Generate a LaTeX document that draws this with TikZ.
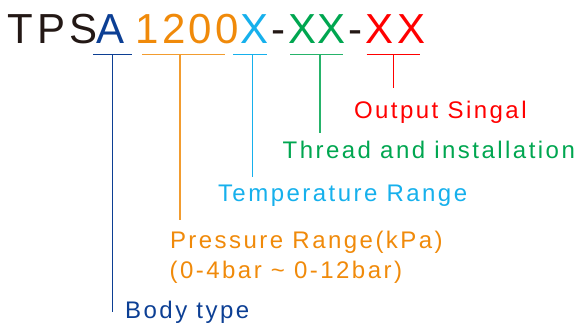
\documentclass[tikz,border=0pt]{standalone}
\usepackage{fontspec}
\setmainfont{Liberation Sans}
\newfontfamily\titleTPS[LetterSpace=9.5]{Liberation Sans}
\newfontfamily\titleNum[LetterSpace=7.8]{Liberation Sans}
\newfontfamily\titleX[LetterSpace=3]{Liberation Sans}
\newfontfamily\titleXr[LetterSpace=10]{Liberation Sans}
\newfontfamily\labelfont[LetterSpace=10.3]{Liberation Sans}
\definecolor{tblack}{RGB}{35,24,21}
\definecolor{cblue}{RGB}{12,63,148}
\definecolor{corange}{RGB}{240,138,10}
\definecolor{ccyan}{RGB}{22,176,236}
\definecolor{cgreen}{RGB}{0,166,80}
\definecolor{cred}{RGB}{255,0,0}
\begin{document}
\begin{tikzpicture}[x=1pt,y=-1pt,
  ttl/.style={anchor=base west,inner sep=0pt,font=\fontsize{42}{42}\selectfont},
  lbl/.style={anchor=base west,inner sep=0pt,font=\fontsize{24}{30}\labelfont},
  ln/.style={line width=1.1pt}]
\useasboundingbox (0,0) rectangle (580,329);
% title
\node[ttl,text=tblack] (tps) at (7.3,43.3) {\titleTPS TPS};
\node[ttl,text=cblue] (ta) at (96.5,43.3) {A};
\node[ttl,text=corange] (tnum) at (135.4,43.3) {\titleNum 1200};
\node[ttl,text=ccyan] (tx) at (240.3,43.3) {X};
\node[ttl,text=tblack] (td1) at (270.8,43.3) {-};
\node[ttl,text=cgreen] (txx) at (288,43.3) {\titleX XX};
\node[ttl,text=tblack] (td2) at (348,43.3) {-};
\node[ttl,text=cred] (txr) at (365.5,43.3) {\titleXr XX};
% bars
\coordinate (bA1) at (93.3,54.3); \coordinate (bA2) at (131.7,54.3); \coordinate (bA) at (112.5,54.3);
\coordinate (bN1) at (142.3,54.3); \coordinate (bN2) at (225,54.3); \coordinate (bN) at (180,54.3);
\coordinate (bX1) at (233.3,54.3); \coordinate (bX2) at (266.7,54.3); \coordinate (bX) at (252.3,54.3);
\coordinate (bG1) at (290,54.3); \coordinate (bG2) at (343.3,54.3); \coordinate (bG) at (320,54.3);
\coordinate (bR1) at (366.7,54.3); \coordinate (bR2) at (420,54.3); \coordinate (bR) at (393.3,54.3);
% labels
\node[lbl,text=cred] (lout) at (353.8,118.3) {Output Singal};
\node[lbl,text=cgreen] (lthr) at (282.5,158.3) {Thread and installation};
\node[lbl,text=ccyan] (ltmp) at (217.8,201.7) {Temperature Range};
\node[lbl,text=corange] (lpre) at (169.8,248.5) {Pressure Range(kPa)};
\node[lbl,text=corange] (lpre2) at (169.4,278.5) {(0-4bar \textasciitilde{} 0-12bar)};
\node[lbl,text=cblue] (lbody) at (125,318.5) {Body type};
% connector ends
\coordinate (eA) at (112.5,311.7);
\coordinate (eN) at (180,220);
\coordinate (eX) at (252.3,176.7);
\coordinate (eG) at (320,133.3);
\coordinate (eR) at (393.3,88.3);
\draw[ln,cblue] (bA1) -- (bA2) (bA) -- (eA);
\draw[ln,corange!85!white] (bN1) -- (bN2) (bN) -- (eN);
\draw[ln,ccyan] (bX1) -- (bX2) (bX) -- (eX);
\draw[ln,cgreen!85!white] (bG1) -- (bG2) (bG) -- (eG);
\draw[ln,cred] (bR1) -- (bR2) (bR) -- (eR);
\end{tikzpicture}
\end{document}
